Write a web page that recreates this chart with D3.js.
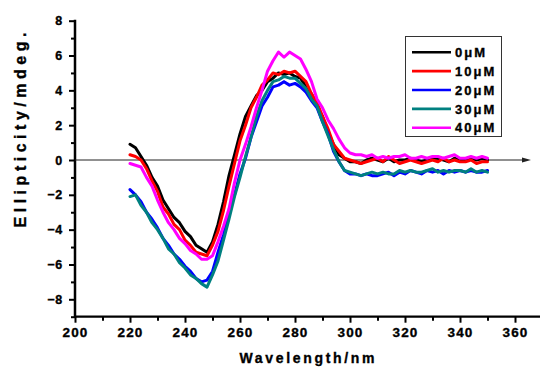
<!DOCTYPE html>
<html><head><meta charset="utf-8">
<script src="https://cdn.jsdelivr.net/npm/d3@7"></script>
<style>
body{margin:0;background:#fff}
svg{display:block}
text{font-family:Arial,"Liberation Sans",sans-serif;font-weight:bold;fill:#000;stroke:#000;stroke-width:0.35px}
</style>
</head><body>
<svg id="chart" width="540" height="368"></svg>
<script>
// ---- data ----
const wavelengths = [220,222,224,226,228,230,232,234,236,238,240,242,244,246,248,250,252,254,256,258,260,262,264,266,268,270,272,274,276,278,280,282,284,286,288,290,292,294,296,298,300,302,304,306,308,310,312,314,316,318,320,322,324,326,328,330,332,334,336,338,340,342,344,346,348,350];
const seriesNames = ["0μM","10μM","20μM","30μM","40μM"];
const seriesColors = ["#000000","#ff0000","#0000ff","#008080","#ff00ff"];
const c0 = [0.9,0.7,0.2,-0.3,-1.0,-1.5,-2.3,-2.8,-3.3,-3.6,-4.1,-4.4,-4.9,-5.1,-5.3,-4.7,-3.7,-2.4,-0.9,0.3,1.5,2.5,3.1,3.7,4.0,4.5,4.7,5.0,4.9,5.0,4.8,4.7,4.2,3.8,3.1,2.5,1.6,0.9,0.3,0.1,-0.1,
  -0.1,-0.2,0.0,0.1,0.0,-0.1,0.1,-0.1,0.0,0.0,0.1,0.0,-0.1,0.0,0.1,0.1,0.0,-0.1,0.1,0.0,0.0,0.1,0.0,0.1,0.0];
const c10 = [0.3,0.2,0.0,-0.5,-1.2,-1.8,-2.7,-3.1,-3.7,-4.0,-4.6,-4.9,-5.3,-5.4,-5.5,-4.9,-4.1,-2.9,-1.5,-0.2,1.1,2.0,3.0,3.6,4.3,4.6,5.0,4.9,5.1,5.0,5.1,4.8,4.5,3.8,3.3,2.5,1.8,0.9,0.5,0.1,0.0,
  -0.1,-0.2,-0.1,0.0,0.1,-0.1,0.2,0.0,-0.2,-0.1,0.0,-0.1,-0.2,-0.1,0.0,-0.1,0.1,-0.1,0.0,-0.1,-0.1,0.0,-0.2,-0.1,-0.1];
const c20 = [-1.7,-2.0,-2.4,-3.0,-3.4,-3.9,-4.5,-4.9,-5.4,-5.7,-6.1,-6.4,-6.8,-7.0,-6.9,-6.4,-5.3,-4.3,-3.0,-2.0,-0.8,0.1,1.3,2.2,3.1,3.6,4.2,4.3,4.5,4.3,4.4,4.2,3.9,3.4,3.0,2.2,1.5,0.5,-0.1,-0.6,-0.8,
  -0.8,-0.9,-0.8,-0.9,-0.9,-0.8,-0.7,-0.9,-0.7,-0.8,-0.6,-0.7,-0.8,-0.6,-0.7,-0.6,-0.8,-0.6,-0.7,-0.6,-0.7,-0.6,-0.7,-0.7,-0.6];
const c30 = [-2.1,-2.0,-2.6,-3.0,-3.6,-4.0,-4.5,-5.1,-5.4,-5.9,-6.2,-6.6,-6.8,-7.1,-7.3,-6.6,-5.8,-4.6,-3.4,-2.1,-1.0,0.2,1.3,2.5,3.4,4.0,4.5,4.6,4.8,4.7,4.7,4.4,4.1,3.5,3.1,2.2,1.4,0.6,-0.1,-0.6,-0.7,
  -0.8,-0.9,-0.8,-0.7,-0.8,-0.7,-0.8,-0.8,-0.6,-0.7,-0.6,-0.7,-0.7,-0.6,-0.5,-0.7,-0.6,-0.7,-0.6,-0.6,-0.7,-0.5,-0.7,-0.6,-0.7];
const c40 = [-0.2,-0.3,-0.4,-1.0,-1.5,-2.3,-3.0,-3.6,-4.0,-4.5,-4.8,-5.2,-5.4,-5.7,-5.7,-5.5,-4.7,-3.8,-2.8,-1.3,0.0,0.9,1.9,3.0,4.0,5.1,5.7,6.2,5.9,6.2,6.0,5.8,5.2,4.5,3.5,3.0,2.3,1.8,1.2,0.7,0.4,
  0.3,0.3,0.2,0.3,0.1,0.2,0.1,0.2,0.2,0.3,0.1,0.1,0.2,0.1,0.2,0.2,0.1,0.2,0.3,0.1,0.1,0.2,0.1,0.2,0.1];
const seriesValues = [c0,c10,c20,c30,c40];
const xMajorTicks = [200,220,240,260,280,300,320,340,360];
const xMinorTicks = [210,230,250,270,290,310,330,350];
const yMajorTicks = [-8,-6,-4,-2,0,2,4,6,8];
const yMinorTicks = [-9,-7,-5,-3,-1,1,3,5,7];

// ---- chart ----
const svg = d3.select("#chart");
const x = d3.scaleLinear().domain([200,360]).range([75,515]);
const y = d3.scaleLinear().domain([-8,8]).range([299.3,20.7]);

// x axis
const xAxisY = y(-9);
const gx = svg.append("g").attr("transform",`translate(0,${xAxisY})`);
gx.call(d3.axisBottom(x).tickValues(xMajorTicks).tickSize(6).tickPadding(5).tickFormat(d3.format("d")));
gx.select(".domain").remove();
gx.selectAll(".tick line").attr("stroke","#000").attr("stroke-width",2);
gx.selectAll(".tick text").style("font-size","13.5px").style("letter-spacing","1.2px").attr("font-family",null);
const gx2 = svg.append("g").attr("transform",`translate(0,${xAxisY})`);
gx2.call(d3.axisBottom(x).tickValues(xMinorTicks).tickSize(4).tickFormat(""));
gx2.select(".domain").remove();
gx2.selectAll(".tick line").attr("stroke","#000").attr("stroke-width",2);
svg.append("line").attr("x1",x(200)-1).attr("x2",540).attr("y1",xAxisY).attr("y2",xAxisY)
  .attr("stroke","#000").attr("stroke-width",2.2);

// y axis
const gy = svg.append("g").attr("transform",`translate(${x(200)},0)`);
gy.call(d3.axisLeft(y).tickValues(yMajorTicks).tickSize(6).tickPadding(6).tickFormat(d3.format("d")));
gy.select(".domain").remove();
gy.selectAll(".tick line").attr("stroke","#000").attr("stroke-width",2);
gy.selectAll(".tick text").style("font-size","12.5px").style("letter-spacing","0.8px").attr("font-family",null);
const gy2 = svg.append("g").attr("transform",`translate(${x(200)},0)`);
gy2.call(d3.axisLeft(y).tickValues(yMinorTicks).tickSize(4).tickFormat(""));
gy2.select(".domain").remove();
gy2.selectAll(".tick line").attr("stroke","#000").attr("stroke-width",2);
svg.append("line").attr("x1",x(200)).attr("x2",x(200)).attr("y1",y(8)-1).attr("y2",xAxisY+1)
  .attr("stroke","#000").attr("stroke-width",2.5);

// zero line with arrow
svg.append("line").attr("x1",x(200)).attr("x2",525).attr("y1",y(0)).attr("y2",y(0))
  .attr("stroke","#222").attr("stroke-width",1);
svg.append("path").attr("d",`M522,${y(0)-2.5}L531,${y(0)}L522,${y(0)+2.5}Z`).attr("fill","#222");

// series
const line = d3.line().x((d,i)=>x(wavelengths[i])).y(d=>y(d));
seriesValues.forEach((vals,k)=>{
  svg.append("path").datum(vals).attr("d",line).attr("fill","none")
    .attr("stroke",seriesColors[k]).attr("stroke-width",3)
    .attr("stroke-linejoin","round").attr("stroke-linecap","round");
});

// legend
const lg = svg.append("g");
lg.append("rect").attr("x",405.5).attr("y",36.5).attr("width",96).attr("height",100)
  .attr("fill","#fff").attr("stroke","#333").attr("stroke-width",1);
const rowY = d3.scaleLinear().domain([0,4]).range([52.3,127.7]);
seriesNames.forEach((n,k)=>{
  lg.append("line").attr("x1",412).attr("x2",451).attr("y1",rowY(k)).attr("y2",rowY(k))
    .attr("stroke",seriesColors[k]).attr("stroke-width",2.6);
  lg.append("text").attr("x",455).attr("y",rowY(k)).attr("dy","0.36em")
    .style("font-size","13px").style("letter-spacing","2px").text(n);
});

// titles
svg.append("text").attr("x",307).attr("y",363).attr("text-anchor","middle")
  .style("font-size","14px").attr("textLength",135).attr("lengthAdjust","spacing").text("Wavelength/nm");
svg.append("text").attr("transform","translate(26,130) rotate(-90)").attr("text-anchor","middle")
  .style("font-size","16px").attr("textLength",195).attr("lengthAdjust","spacing").text("Ellipticity/mdeg.");
</script>
</body></html>
